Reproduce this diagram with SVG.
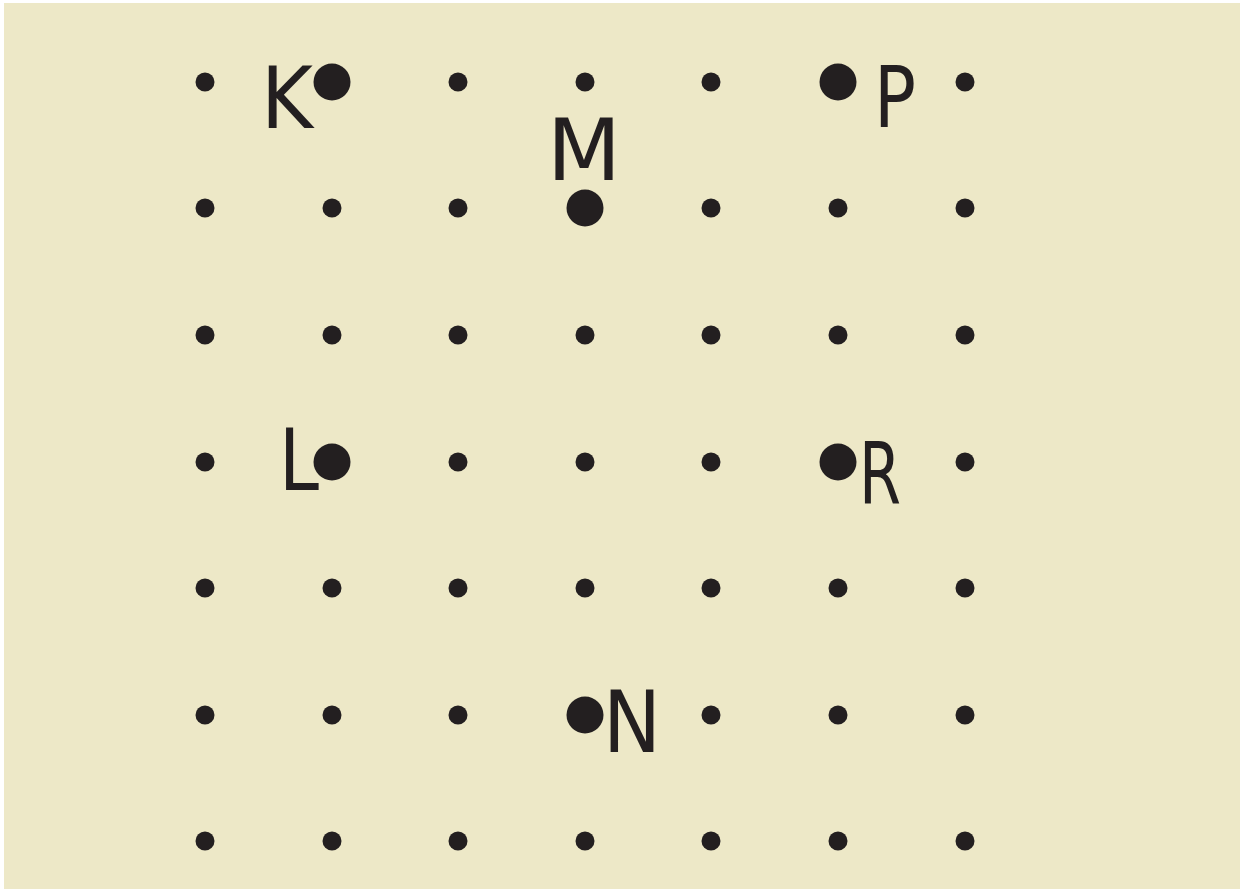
<svg xmlns="http://www.w3.org/2000/svg" width="1250" height="892" viewBox="0 0 1250 892">
<style>
.d{fill:#231f20}
.lbl{font-family:"DejaVu Sans","Liberation Sans",sans-serif;font-size:86px;fill:#231f20;text-anchor:middle}
</style>
<rect x="0" y="0" width="1250" height="892" fill="#ffffff"/>
<rect x="4" y="3" width="1236" height="886" fill="#ede8c7"/>
<g id="grid">
<g class="d">
<circle cx="205" cy="82" r="9.5"/><circle cx="458" cy="82" r="9.5"/><circle cx="585" cy="82" r="9.5"/><circle cx="711" cy="82" r="9.5"/><circle cx="965" cy="82" r="9.5"/>
<circle cx="205" cy="208" r="9.5"/><circle cx="332" cy="208" r="9.5"/><circle cx="458" cy="208" r="9.5"/><circle cx="711" cy="208" r="9.5"/><circle cx="838" cy="208" r="9.5"/><circle cx="965" cy="208" r="9.5"/>
<circle cx="205" cy="335" r="9.5"/><circle cx="332" cy="335" r="9.5"/><circle cx="458" cy="335" r="9.5"/><circle cx="585" cy="335" r="9.5"/><circle cx="711" cy="335" r="9.5"/><circle cx="838" cy="335" r="9.5"/><circle cx="965" cy="335" r="9.5"/>
<circle cx="205" cy="462" r="9.5"/><circle cx="458" cy="462" r="9.5"/><circle cx="585" cy="462" r="9.5"/><circle cx="711" cy="462" r="9.5"/><circle cx="965" cy="462" r="9.5"/>
<circle cx="205" cy="588" r="9.5"/><circle cx="332" cy="588" r="9.5"/><circle cx="458" cy="588" r="9.5"/><circle cx="585" cy="588" r="9.5"/><circle cx="711" cy="588" r="9.5"/><circle cx="838" cy="588" r="9.5"/><circle cx="965" cy="588" r="9.5"/>
<circle cx="205" cy="715" r="9.5"/><circle cx="332" cy="715" r="9.5"/><circle cx="458" cy="715" r="9.5"/><circle cx="711" cy="715" r="9.5"/><circle cx="838" cy="715" r="9.5"/><circle cx="965" cy="715" r="9.5"/>
<circle cx="205" cy="841" r="9.5"/><circle cx="332" cy="841" r="9.5"/><circle cx="458" cy="841" r="9.5"/><circle cx="585" cy="841" r="9.5"/><circle cx="711" cy="841" r="9.5"/><circle cx="838" cy="841" r="9.5"/><circle cx="965" cy="841" r="9.5"/>
</g>
</g>
<g id="K"><circle class="d" cx="332" cy="82" r="18.5"/><text class="lbl" x="287" y="128" textLength="52" lengthAdjust="spacingAndGlyphs">K</text></g>
<g id="P"><circle class="d" cx="838" cy="82" r="18.5"/><text class="lbl" x="895" y="127" textLength="42" lengthAdjust="spacingAndGlyphs">P</text></g>
<g id="M"><circle class="d" cx="585" cy="208" r="18.5"/><text class="lbl" x="584" y="180" textLength="74" lengthAdjust="spacingAndGlyphs">M</text></g>
<g id="L"><circle class="d" cx="332" cy="462" r="18.5"/><text class="lbl" x="299" y="490" textLength="40" lengthAdjust="spacingAndGlyphs">L</text></g>
<g id="R"><circle class="d" cx="838" cy="462" r="18.5"/><text class="lbl" x="880" y="503" textLength="42" lengthAdjust="spacingAndGlyphs">R</text></g>
<g id="N"><circle class="d" cx="585" cy="715" r="18.5"/><text class="lbl" x="632" y="752" textLength="58" lengthAdjust="spacingAndGlyphs">N</text></g>
</svg>
